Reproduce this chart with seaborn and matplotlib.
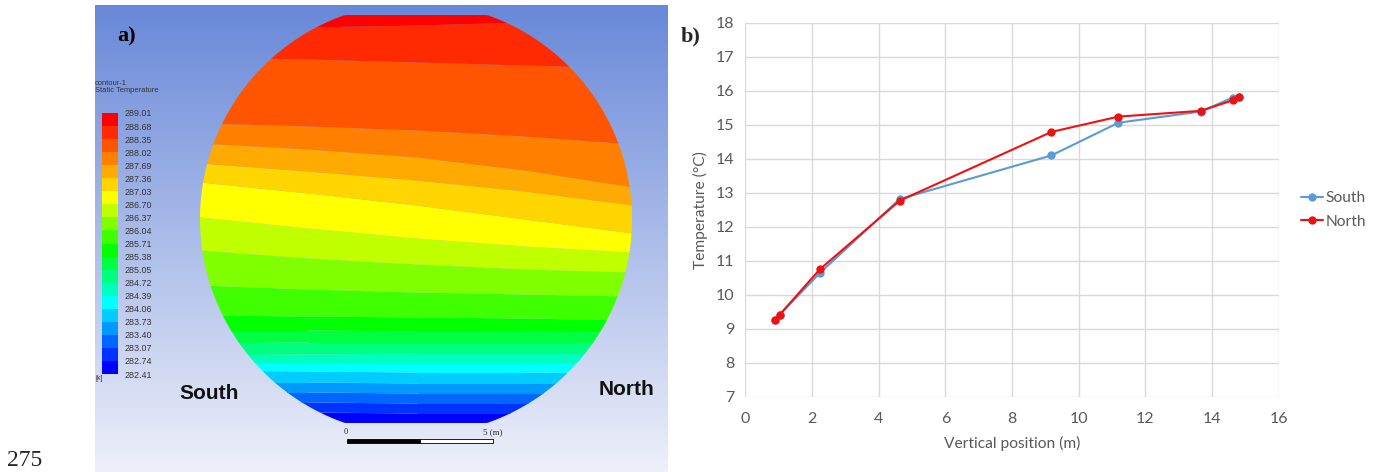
import numpy as np
import pandas as pd
import matplotlib
matplotlib.use("Agg")
import matplotlib.pyplot as plt
import seaborn as sns
from matplotlib.colors import ListedColormap, BoundaryNorm
from matplotlib.cm import ScalarMappable
from matplotlib.patches import Polygon, Rectangle

# ---------------- data : panel b ----------------
vertical_position = [0.88, 1.03, 2.23, 4.63, 9.18, 11.19, 13.66, 14.62, 14.81]
temp_south = [9.27, 9.42, 10.64, 12.82, 14.10, 15.06, 15.39, 15.80, 15.83]
temp_north = [9.27, 9.42, 10.75, 12.77, 14.79, 15.24, 15.41, 15.72, 15.83]
series_names = ["South", "North"]
x_ticks = [0, 2, 4, 6, 8, 10, 12, 14, 16]
y_ticks = [7, 8, 9, 10, 11, 12, 13, 14, 15, 16, 17, 18]

# ---------------- data : panel a ----------------
contour_levels = [282.41, 282.74, 283.07, 283.40, 283.73, 284.06, 284.39, 284.72,
                  285.05, 285.38, 285.71, 286.04, 286.37, 286.70, 287.03, 287.36,
                  287.69, 288.02, 288.35, 288.68, 289.01]
# band boundaries (between band k and k+1) read from the picture, sampled at
# five columns across the section (image pixel rows)
boundary_x = [200, 308, 416, 524, 632]
boundary_rows = [
    [412, 412, 413, 413, 413],
    [402, 402, 403, 403, 403],
    [392, 392, 393, 393, 393],
    [382, 382, 383, 383, 383],
    [370, 371, 372, 372, 373],
    [362, 362, 362, 362, 362],
    [355, 354, 353, 353, 353],
    [343, 342, 342, 342, 342],
    [330, 330, 331, 331, 332],
    [315, 316, 317, 318, 320],
    [285, 289, 292, 294, 296],
    [250, 258, 264, 269, 272],
    [217, 228, 238, 246, 252],
    [182, 193, 205, 219, 233],
    [163, 171, 180, 191, 205],
    [143, 149, 157, 170, 187],
    [123, 126, 130, 136, 144],
    [57, 59, 62, 65, 68],
    [28, 27, 25, 22, 18],
]

# ---------------- style ----------------
band_colors = ["#0000ff", "#0033ff", "#0066ff", "#0099ff", "#00ccff", "#00ffff",
               "#00ffbf", "#00ff80", "#00ff40", "#00ff00", "#40ff00", "#80ff00",
               "#bfff00", "#ffff00", "#ffd500", "#ffaa00", "#ff8000", "#ff5500",
               "#ff2a00", "#ff0000"]
south_color = "#5b9bd5"
north_color = "#ee1111"
grid_color = "#d9d9d9"
text_gray = "#595959"

sns.set_style("white")
plt.rcParams["font.family"] = ["Lato", "DejaVu Sans"]

W, H = 1378, 472
fig = plt.figure(figsize=(W / 100, H / 100), dpi=100)

# ================= panel a =================
axa = fig.add_axes([95 / W, 0, 573 / W, 467 / H])
axa.set_xlim(95, 668)
axa.set_ylim(472, 5)
axa.axis("off")

top_rgb = np.array([104, 136, 216]) / 255
bot_rgb = np.array([238, 240, 250]) / 255
t = np.linspace(0, 1, 256)[:, None]
grad = (top_rgb[None, :] * (1 - t) + bot_rgb[None, :] * t)[:, None, :]
axa.imshow(grad, extent=(95, 668, 472, 5), aspect="auto", origin="upper", zorder=0)

# truncated circular section
cx, cy, r = 416, 219, 216
ang = np.linspace(0, 2 * np.pi, 721)
sec = np.column_stack([cx + r * np.cos(ang), np.clip(cy + r * np.sin(ang), 15, 423)])
section = Polygon(sec, closed=True, facecolor="none", edgecolor="none")
axa.add_patch(section)

xs = np.linspace(190, 645, 300)
bounds = ([np.full_like(xs, 440.0)]
          + [np.interp(xs, boundary_x, b) for b in boundary_rows]
          + [np.full_like(xs, 0.0)])
for k, col in enumerate(band_colors):
    pc = axa.fill_between(xs, bounds[k], bounds[k + 1], color=col, linewidth=0, zorder=2)
    pc.set_clip_path(section)

axa.text(117, 36, "a)", fontsize=16, fontweight="bold", family="Liberation Serif",
         ha="left", va="center", color="black")
axa.text(95, 84, "contour-1", fontsize=5.4, family="Liberation Sans", color="#333333",
         ha="left", va="center")
axa.text(95, 91, "Static Temperature", fontsize=5.4, family="Liberation Sans",
         color="#333333", ha="left", va="center")
axa.text(95, 379, "[k]", fontsize=5, family="Liberation Sans", color="#333333",
         ha="left", va="center")
axa.text(209, 394, "South", fontsize=15, fontweight="bold", family="Liberation Sans",
         ha="center", va="center", color="#111111")
axa.text(626, 390, "North", fontsize=15, fontweight="bold", family="Liberation Sans",
         ha="center", va="center", color="#111111")

# scale bar
axa.add_patch(Rectangle((347, 439), 73, 4, facecolor="black", edgecolor="black", lw=0.6, zorder=3))
axa.add_patch(Rectangle((420, 439), 73, 4, facecolor="white", edgecolor="black", lw=0.6, zorder=3))
axa.text(346, 432, "0", fontsize=6, family="Liberation Serif", ha="center", va="center")
axa.text(483, 432, "5 (m)", fontsize=6.5, family="Liberation Serif", ha="left", va="center")

# colour legend
cax = fig.add_axes([102 / W, (H - 374) / H, 16 / W, 261 / H])
cmap = ListedColormap(band_colors)
norm = BoundaryNorm(contour_levels, cmap.N)
cb = fig.colorbar(ScalarMappable(norm=norm, cmap=cmap), cax=cax, ticks=contour_levels)
cb.outline.set_visible(False)
cax.set_yticklabels([f"{v:.2f}" for v in contour_levels])
cax.tick_params(length=0, pad=5, labelsize=6.4, colors="#333333")
for lab in cax.get_yticklabels():
    lab.set_family("Liberation Sans")

# ================= panel b =================
axb = fig.add_axes([745.4 / W, (H - 397) / H, 533.4 / W, 374.3 / H])
df = pd.DataFrame({
    "Vertical position (m)": vertical_position * 2,
    "Temperature (°C)": temp_south + temp_north,
    "side": [series_names[0]] * len(vertical_position) + [series_names[1]] * len(vertical_position),
})
sns.lineplot(data=df, x="Vertical position (m)", y="Temperature (°C)", hue="side",
             hue_order=series_names, palette=[south_color, north_color],
             marker="o", markersize=6, markeredgewidth=0, linewidth=1.5,
             sort=False, ax=axb)
axb.set_xlim(0, 16)
axb.set_ylim(7, 18)
axb.set_xticks(x_ticks)
axb.set_yticks(y_ticks)
axb.grid(True, color=grid_color, linewidth=1.0)
axb.set_axisbelow(True)
for s in axb.spines.values():
    s.set_visible(False)
axb.tick_params(length=0, labelsize=11.5, colors=text_gray)
axb.tick_params(axis="x", pad=11)
axb.tick_params(axis="y", pad=8)
axb.set_xlabel("Vertical position (m)", fontsize=11.2, color=text_gray, va="center")
axb.set_ylabel("Temperature (°C)", fontsize=11.2, color=text_gray, va="center")
axb.xaxis.set_label_coords(0.5, -0.123)
axb.yaxis.set_label_coords(-0.085, 0.5)
handles, labels = axb.get_legend_handles_labels()
axb.legend(handles, labels, loc="center left", bbox_to_anchor=(1.03, 0.5),
           frameon=False, fontsize=11.2, labelcolor=text_gray, handlelength=1.4,
           handletextpad=0.15, labelspacing=0.6, borderaxespad=0)

fig.text(681 / W, 1 - 36 / H, "b)", fontsize=16, fontweight="bold",
         family="Liberation Serif", ha="left", va="center")
fig.text(7 / W, 1 - 461 / H, "275", fontsize=17, family="Liberation Serif",
         ha="left", va="center")

fig.savefig("out.png", dpi=100)
